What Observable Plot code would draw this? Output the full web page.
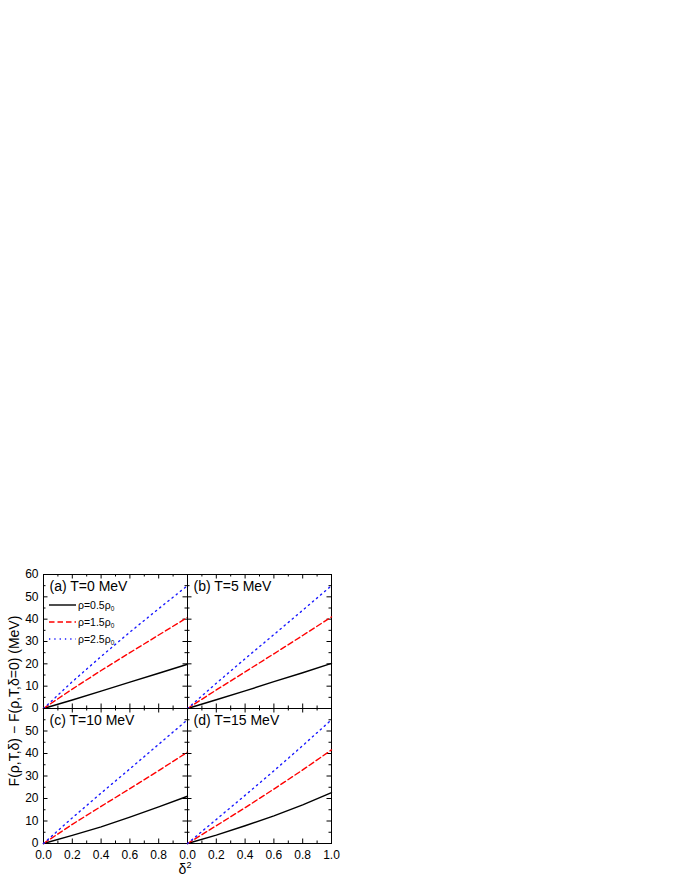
<!DOCTYPE html>
<html><head><meta charset="utf-8">
<script src="https://cdn.jsdelivr.net/npm/d3@7"></script>
<script src="https://cdn.jsdelivr.net/npm/@observablehq/plot@0.6"></script>
<style>
body{margin:0;background:#fff;}
#wrap{position:relative;width:680px;height:880px;font-family:"Liberation Sans",Arial,sans-serif;overflow:hidden;}
#wrap svg{position:absolute;overflow:visible;}
</style></head><body><div id="wrap"></div>
<script>
// ---- data ----
const delta2 = [0, 0.2, 0.4, 0.6, 0.8, 1.0];
const panelTitles = ["(a) T=0 MeV", "(b) T=5 MeV", "(c) T=10 MeV", "(d) T=15 MeV"];
const seriesNames = ["0.5", "1.5", "2.5"]; // rho / rho0
// panel (a) T=0
const a_rho05 = [0, 3.8, 7.8, 11.8, 15.8, 19.8];
const a_rho15 = [0, 8.7, 17.0, 25.0, 32.9, 40.8];
const a_rho25 = [0, 12.0, 23.3, 34.2, 44.7, 55.0];
// panel (b) T=5
const b_rho05 = [0, 3.9, 7.9, 12.0, 16.0, 20.2];
const b_rho15 = [0, 8.3, 16.4, 24.5, 32.7, 41.0];
const b_rho25 = [0, 11.3, 22.3, 33.1, 44.0, 55.0];
// panel (c) T=10
const c_rho05 = [0, 3.6, 7.4, 11.7, 16.3, 21.0];
const c_rho15 = [0, 8.5, 16.5, 24.4, 32.4, 40.6];
const c_rho25 = [0, 11.4, 22.4, 33.2, 44.1, 55.0];
// panel (d) T=15
const d_rho05 = [0, 3.7, 7.9, 12.3, 17.2, 22.6];
const d_rho15 = [0, 7.9, 15.9, 24.2, 32.7, 41.6];
const d_rho25 = [0, 10.7, 21.4, 32.3, 43.5, 55.0];

const yTicksTop = [0, 10, 20, 30, 40, 50, 60];
const yTicksBottom = [0, 10, 20, 30, 40, 50];
const yMajor = [0, 10, 20, 30, 40, 50, 60];
const yMinor = [5, 15, 25, 35, 45, 55];
const xTicksLeft = [0.0, 0.2, 0.4, 0.6, 0.8];
const xTicksRight = [0.0, 0.2, 0.4, 0.6, 0.8, 1.0];
const xMajor = [0, 0.2, 0.4, 0.6, 0.8, 1.0];
const xMinor = [0.1, 0.3, 0.5, 0.7, 0.9];

const styles = [
  {stroke: "#000000", strokeWidth: 1.4},
  {stroke: "#ff0000", strokeWidth: 1.4, strokeDasharray: "5.5,3"},
  {stroke: "#1a1aff", strokeWidth: 1.4, strokeDasharray: "1.3,4"}
];

const wrap = document.getElementById("wrap");
const FONT = '"Liberation Sans", Arial, sans-serif';

function panel(series, title, o) {
  const W = o.w, H = o.h;
  const marks = [
    Plot.frame({stroke: "#000", strokeWidth: 1}),
    Plot.tickX(xMajor, {x: d => d, insetTop: H - 4.5, stroke: "#000"}),
    Plot.tickX(xMajor, {x: d => d, insetBottom: H - 4.5, stroke: "#000"}),
    Plot.tickX(xMinor, {x: d => d, insetTop: H - 2.5, stroke: "#000"}),
    Plot.tickX(xMinor, {x: d => d, insetBottom: H - 2.5, stroke: "#000"}),
    Plot.tickY(yMajor, {y: d => d, insetRight: W - 4.5, stroke: "#000"}),
    Plot.tickY(yMajor, {y: d => d, insetLeft: W - 4.5, stroke: "#000"}),
    Plot.tickY(yMinor, {y: d => d, insetRight: W - 2.5, stroke: "#000"}),
    Plot.tickY(yMinor, {y: d => d, insetLeft: W - 2.5, stroke: "#000"})
  ];
  series.forEach((vals, si) => {
    marks.push(Plot.line(delta2.map((x, i) => ({x, y: vals[i]})), {x: "x", y: "y", ...styles[si]}));
  });
  marks.push(Plot.text([title], {frameAnchor: "top-left", dx: 6, dy: 7, lineAnchor: "top", fontSize: 14, fill: "#000"}));
  if (o.yLabels) marks.push(Plot.text(o.yLabels, {y: d => d, text: d => String(d), frameAnchor: "left", textAnchor: "end", dx: -5, fontSize: 12, fill: "#000"}));
  if (o.xLabels) marks.push(Plot.text(o.xLabels, {x: d => d, text: d => d.toFixed(1), frameAnchor: "bottom", lineAnchor: "top", dy: 6.5, fontSize: 12, fill: "#000"}));
  const svg = Plot.plot({
    width: W, height: H,
    marginTop: 0, marginBottom: 0, marginLeft: 0, marginRight: 0,
    x: {domain: [0, 1], axis: null},
    y: {domain: [0, 60], axis: null},
    style: {background: "transparent", overflow: "visible", fontFamily: FONT},
    marks
  });
  svg.style.position = "absolute";
  svg.style.left = o.left + "px";
  svg.style.top = o.top + "px";
  svg.style.overflow = "visible";
  svg.style.maxWidth = "none";
  wrap.appendChild(svg);
}

const X0 = 43, XM = 187, X1 = 331, Y0 = 574, YM = 708, Y1 = 843;
panel([a_rho05, a_rho15, a_rho25], panelTitles[0], {left: X0, top: Y0, w: XM - X0, h: YM - Y0, yLabels: yTicksTop});
panel([b_rho05, b_rho15, b_rho25], panelTitles[1], {left: XM, top: Y0, w: X1 - XM, h: YM - Y0});
panel([c_rho05, c_rho15, c_rho25], panelTitles[2], {left: X0, top: YM, w: XM - X0, h: Y1 - YM, yLabels: yTicksBottom, xLabels: xTicksLeft});
panel([d_rho05, d_rho15, d_rho25], panelTitles[3], {left: XM, top: YM, w: X1 - XM, h: Y1 - YM, xLabels: xTicksRight});

// overlay: axis titles + legend
const ov = d3.select(wrap).append("svg").attr("width", 680).attr("height", 880)
  .style("left", "0px").style("top", "0px").style("font-family", FONT);
const yl = ov.append("text").attr("transform", `translate(14,701) rotate(-90)`)
  .attr("text-anchor", "middle").attr("dominant-baseline", "central").attr("font-size", 14);
yl.text("F(ρ,T,δ) − F(ρ,T,δ=0) (MeV)");
const xl = ov.append("text").attr("x", XM - 2).attr("y", 874).attr("text-anchor", "middle").attr("font-size", 14);
xl.append("tspan").text("δ");
xl.append("tspan").attr("dy", -6).attr("font-size", 9).text("2");

const legY = [605, 622, 639];
seriesNames.forEach((n, i) => {
  const g = ov.append("g");
  const ln = g.append("line").attr("x1", 49).attr("x2", 76).attr("y1", legY[i]).attr("y2", legY[i])
    .attr("stroke", styles[i].stroke).attr("stroke-width", styles[i].strokeWidth);
  if (styles[i].strokeDasharray) ln.attr("stroke-dasharray", styles[i].strokeDasharray);
  const t = g.append("text").attr("x", 78).attr("y", legY[i]).attr("dominant-baseline", "central").attr("font-size", 10.5);
  t.append("tspan").text("ρ=" + n + "ρ");
  t.append("tspan").attr("dy", 3).attr("font-size", 6.5).text("0");
});
</script></body></html>
